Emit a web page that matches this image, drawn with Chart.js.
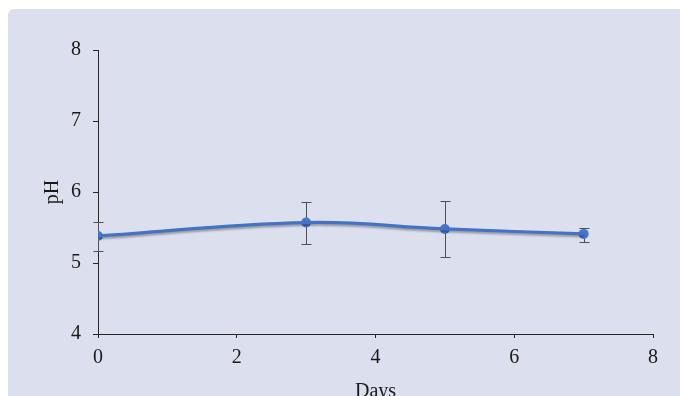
<!DOCTYPE html>
<html>
<head>
<meta charset="utf-8">
<script src="https://cdn.jsdelivr.net/npm/chart.js@4.4.1/dist/chart.umd.min.js"></script>
<style>
  html, body { margin:0; padding:0; background:#fff; overflow:hidden; }
  #wrap { position:relative; width:680px; height:396px; overflow:hidden; }
  #panel { position:absolute; left:8px; top:9px; right:0; bottom:0; background:#dcdfee; border-top-left-radius:6px; }
  #holder { position:absolute; left:0; top:0; width:680px; height:420px; }
</style>
</head>
<body>
<div id="wrap">
  <div id="panel"></div>
  <div id="holder"><canvas id="chart" width="680" height="420"></canvas></div>
</div>
<script>
// values
const days = [0, 3, 5, 7];
const phMean = [5.38, 5.57, 5.48, 5.41];
const phHigh = [5.58, 5.86, 5.88, 5.50];
const phLow = [5.17, 5.27, 5.08, 5.29];
const xTicks = [0, 2, 4, 6, 8];
const yTicks = [4, 5, 6, 7, 8];

const serif = '"Liberation Serif", "DejaVu Serif", serif';
const axisColor = '#262626';
const blue = '#4472c4';
const points = days.map((d, i) => ({ x: d, y: phMean[i] }));

// error bars, drawn under the line
const errorBars = {
  id: 'errorBars',
  beforeDatasetsDraw(chart){
    const {ctx, scales:{x, y}} = chart;
    ctx.save();
    ctx.strokeStyle = '#505050';
    ctx.lineWidth = 1;
    days.forEach((d, i) => {
      const px = Math.round(x.getPixelForValue(d)) + 0.5;
      const top = Math.round(y.getPixelForValue(phHigh[i])) + 0.5;
      const bot = Math.round(y.getPixelForValue(phLow[i])) + 0.5;
      ctx.beginPath();
      ctx.moveTo(px, top); ctx.lineTo(px, bot);
      ctx.moveTo(px - 5, top); ctx.lineTo(px + 5, top);
      ctx.moveTo(px - 5, bot); ctx.lineTo(px + 5, bot);
      ctx.stroke();
    });
    ctx.restore();
  }
};

// soft shadow under the series line only
const lineShadow = {
  id: 'lineShadow',
  beforeDatasetDraw(chart, args){
    chart.ctx.save();
    if (args.index === 0) {
      chart.ctx.shadowColor = 'rgba(0,0,0,0.3)';
      chart.ctx.shadowOffsetY = 2;
      chart.ctx.shadowBlur = 2;
    }
  },
  afterDatasetDraw(chart){ chart.ctx.restore(); }
};

new Chart(document.getElementById('chart'), {
  type: 'line',
  data: {
    datasets: [
      { label: 'pH', data: points, borderColor: blue, borderWidth: 3.2, pointRadius: 0, tension: 0.4, fill: false },
      { label: 'pH points', data: points, showLine: false, backgroundColor: '#4676c8', borderColor: '#4676c8', borderWidth: 0, pointRadius: 5, pointHoverRadius: 5 }
    ]
  },
  options: {
    responsive: false,
    animation: false,
    layout: { padding: { top: 50, right: 27, left: 0, bottom: 0 } },
    plugins: { legend: { display: false }, tooltip: { enabled: false } },
    scales: {
      x: {
        type: 'linear', min: 0, max: 8,
        afterBuildTicks: s => { s.ticks = xTicks.map(v => ({ value: v })); },
        afterFit: s => { s.height = 86; },
        border: { display: true, color: axisColor, width: 1 },
        grid: { display: true, drawOnChartArea: false, drawTicks: true, tickLength: 4, color: axisColor },
        ticks: { color: '#1a1a1a', padding: 8, maxRotation: 0, font: { family: serif, size: 20 } },
        title: { display: true, text: 'Days', color: '#1a1a1a', padding: 16, font: { family: serif, size: 20 } }
      },
      y: {
        type: 'linear', min: 4, max: 8,
        afterBuildTicks: s => { s.ticks = yTicks.map(v => ({ value: v })); },
        afterFit: s => { s.width = 98; },
        border: { display: true, color: axisColor, width: 1 },
        grid: { display: true, drawOnChartArea: false, drawTicks: true, tickLength: 5, color: axisColor },
        ticks: { color: '#1a1a1a', padding: 12, font: { family: serif, size: 20 } },
        title: { display: true, text: 'pH', color: '#1a1a1a', padding: 41, font: { family: serif, size: 20 } }
      }
    }
  },
  plugins: [errorBars, lineShadow]
});
</script>
</body>
</html>
